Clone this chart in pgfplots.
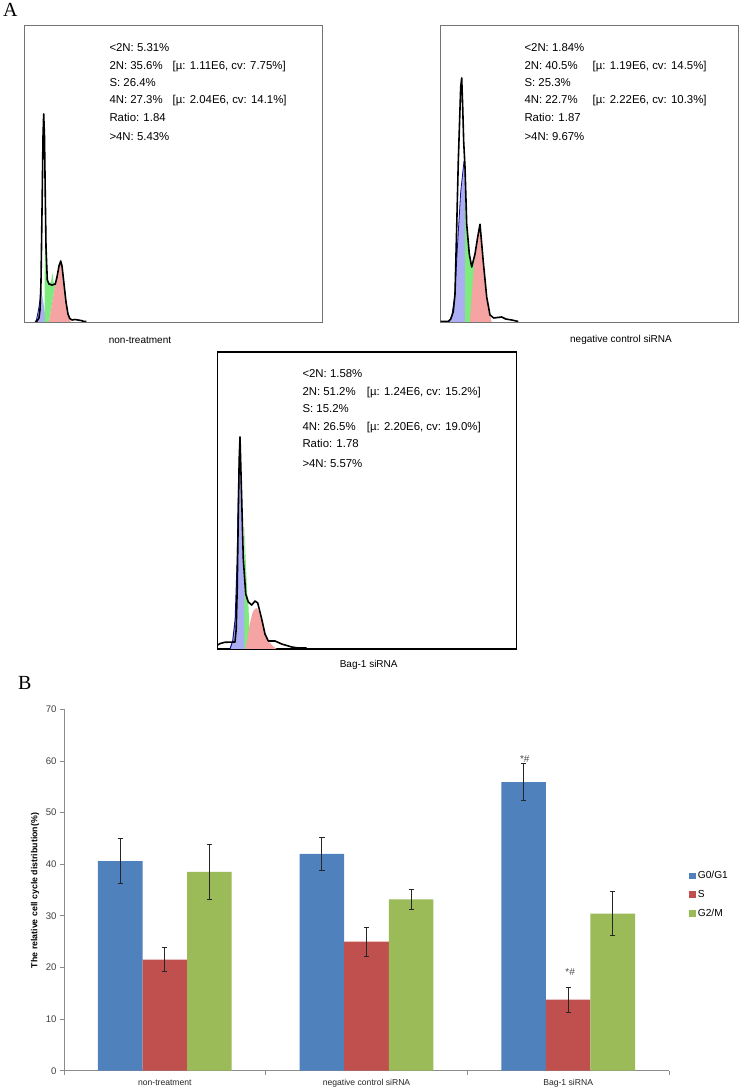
\documentclass[border=0pt]{standalone}
\usepackage{fontspec}
\setmainfont{Liberation Sans}
\newfontfamily\panelfont{Liberation Serif}
\usepackage{pgfplots}
\pgfplotsset{compat=1.18}

\definecolor{xlblue}{HTML}{4F81BD}
\definecolor{xlred}{HTML}{C0504D}
\definecolor{xlgreen}{HTML}{9BBB59}
\definecolor{hblue}{HTML}{ABAEF2}
\definecolor{hbluedark}{HTML}{10108C}
\definecolor{hgreen}{HTML}{7DEB7D}
\definecolor{hred}{HTML}{F5A3A3}

\newcommand{\st}{\fontsize{11.4}{13}\selectfont}

\pgfplotsset{
  histo/.style={scale only axis, anchor=south west, xtick=\empty, ytick=\empty,
    axis line style={draw=black!55, line width=0.9pt}, xmin=0, ymin=0},
  hline/.style={black, line width=1.6pt, line join=round},
}

\begin{document}
\begin{tikzpicture}[x=1pt,y=1pt]
\useasboundingbox (0,0) rectangle (741,1088);
\fill[white] (0,0) rectangle (741,1088);

% ---------- panel A, non-treatment
\begin{axis}[histo, at={(24pt,766pt)}, width=298.3pt, height=297pt, xmax=298.3, ymax=297]
\addplot[fill=hblue, draw=none] coordinates {(12,0) (14.5,12) (17.3,31) (19,22) (21,8) (21.5,0)};
\addplot[hbluedark, line width=0.8pt] coordinates {(12,0) (14.5,12) (17.3,31)};
\addplot[fill=hgreen, draw=none] coordinates {(20.5,0) (20.8,60) (21.6,125) (22.4,75) (23.5,42) (25,38) (27,40) (28.5,49) (29.5,40) (31.3,38) (25,0)};
\addplot[fill=hred, draw=none] coordinates {(25,0) (31.3,38) (33,45) (35,56) (36.7,61) (38,56) (40,38) (42,20) (44,8) (46,2) (47,0)};
\addplot[hline] coordinates {(11,0.3) (13,1) (15,4) (16,12) (17,40) (18,110) (19,185) (19.7,208) (20.5,185) (21.3,125) (22,75) (23.3,42) (25,38) (28,37) (31.3,38) (33,45) (35,56) (36.7,61) (38,56) (40,38) (42,20) (44,8) (45.7,3.5) (48,2) (51,2.5) (54,2) (57,1.5) (60,0.5) (62.3,0.5)};
\end{axis}

% ---------- panel A, negative control siRNA
\begin{axis}[histo, at={(440.7pt,766pt)}, width=297.3pt, height=297pt, xmax=297.3, ymax=297]
\addplot[fill=hblue, draw=none] coordinates {(8,0) (11,5) (14,25) (17,80) (20,130) (23.3,161) (24.3,150) (24.3,0)};
\addplot[hbluedark, line width=0.8pt] coordinates {(8,0) (11,5) (14,25) (17,80) (20,130) (23.3,161)};
\addplot[fill=hgreen, draw=none] coordinates {(24.3,0) (24.3,150) (26,98) (28.6,68) (31,55) (34.3,68) (34.3,0)};
\addplot[fill=hred, draw=none] coordinates {(29,0) (34.3,68) (37,85) (39.3,97) (42.6,60) (46,25) (48,12) (50,4) (51,0)};
\addplot[hline] coordinates {(0,0.5) (7.6,0.5) (10,3) (12.5,10) (14.3,28) (16,95) (17.6,161) (20,235) (21,244) (22,215) (23,180) (24.3,155) (26,98) (28.6,68) (31,55) (34.3,68) (37,85) (39.3,97.7) (42.6,60) (46,25) (49.3,7) (53,4) (57,4.5) (61,5) (65,3) (71,2) (77.6,0.5)};
\end{axis}

% ---------- panel A, Bag-1 siRNA
\begin{axis}[histo, at={(217.7pt,439pt)}, width=299pt, height=297pt, xmax=299, ymax=297,
  axis line style={draw=black, line width=1.3pt}]
\addplot[fill=hblue, draw=none] coordinates {(12.3,0) (15,8) (17.5,30) (19.5,90) (21,170) (22.3,205) (23.5,165) (25,105) (26.6,60) (28,40) (29,20) (29.5,0)};
\addplot[hbluedark, line width=1pt] coordinates {(12.3,0) (15,8) (17.5,30) (19.5,90) (21,170) (22.3,205)};
\addplot[fill=hgreen, draw=none] coordinates {(26.6,0) (26.6,125) (28,90) (29.5,55) (30.6,47) (31.5,25) (31.5,0)};
\addplot[fill=hred, draw=none] coordinates {(27.5,0) (30,12) (32,25) (35,37) (37.3,40) (39,41) (41,38) (44,28) (47.3,15) (50.6,8) (55,3) (59,0)};
\addplot[hline] coordinates {(0,4) (2.5,5.5) (7,6.7) (17.3,7) (18.5,20) (19.5,60) (20.5,130) (21.5,190) (22.3,212) (24,150) (25.6,90) (28,55) (30.6,47) (34,44) (37.3,48) (40,46) (44,30) (47.3,15) (50.6,8) (57.3,8) (64,5) (74,2) (80.6,1) (89,1)};
\end{axis}

% ---------- statistics text
\begin{scope}[every node/.style={anchor=base west, inner sep=0pt, font=\st}]
\node at (109.3,1036.6) {<2N: 5.31\%};
\node at (109.3,1018.9) {2N: 35.6\%};
\node at (172.5,1018.9) {[µ: 1.11E6, cv: 7.75\%]};
\node at (109.3,1001.9) {S: 26.4\%};
\node at (109.3,984.6) {4N: 27.3\%};
\node at (172.5,984.6) {[µ: 2.04E6, cv: 14.1\%]};
\node at (109.3,966.6) {Ratio: 1.84};
\node at (109.3,947.2) {>4N: 5.43\%};

\node at (524.3,1036.6) {<2N: 1.84\%};
\node at (524.3,1018.9) {2N: 40.5\%};
\node at (592.5,1018.9) {[µ: 1.19E6, cv: 14.5\%]};
\node at (524.3,1001.9) {S: 25.3\%};
\node at (524.3,984.6) {4N: 22.7\%};
\node at (592.5,984.6) {[µ: 2.22E6, cv: 10.3\%]};
\node at (524.3,966.6) {Ratio: 1.87};
\node at (524.3,947.2) {>4N: 9.67\%};

\node at (302.3,710.6) {<2N: 1.58\%};
\node at (302.3,692.9) {2N: 51.2\%};
\node at (366.7,692.9) {[µ: 1.24E6, cv: 15.2\%]};
\node at (302.3,675.6) {S: 15.2\%};
\node at (302.3,657.9) {4N: 26.5\%};
\node at (366.7,657.9) {[µ: 2.20E6, cv: 19.0\%]};
\node at (302.3,640.6) {Ratio: 1.78};
\node at (302.3,620.6) {>4N: 5.57\%};
\end{scope}

\begin{scope}[every node/.style={inner sep=0pt, font=\fontsize{10}{12}\selectfont}]
\node at (140,748) {non-treatment};
\node at (621,748) {negative control siRNA};
\node at (368.7,423) {Bag-1 siRNA};
\end{scope}

\node[anchor=base west, inner sep=0pt, font=\panelfont\fontsize{20}{22}\selectfont] at (3,1071.3) {A};
\node[anchor=base west, inner sep=0pt, font=\panelfont\fontsize{20}{22}\selectfont] at (18,398) {B};

% ---------- panel B
\begin{axis}[
  at={(64pt,17.3pt)}, anchor=origin, scale only axis,
  width=605pt, height=361.4pt,
  xmin=0, xmax=3, ymin=0, ymax=70,
  ybar=0pt, bar width=44.6pt,
  axis x line=bottom, axis y line=left,
  axis line style={-, draw=black!45, line width=0.8pt},
  tick align=outside, major tick length=4pt, minor tick length=4pt,
  tick style={draw=black!45, line width=0.8pt},
  xtick={0.5,1.5,2.5},
  xticklabels={non-treatment, negative control siRNA, Bag-1 siRNA},
  major x tick style={draw=none},
  minor xtick={0,1,2,3},
  xticklabel style={font=\fontsize{8.6}{10}\selectfont, text=black!85, yshift=-1.5pt},
  ytick={0,10,...,70},
  yticklabel style={font=\fontsize{9.6}{10}\selectfont, text=black!75},
  /pgf/number format/assume math mode=true,
  error bars/error bar style={line width=0.9pt, black!85},
  error bars/error mark options={rotate=90, mark size=2.6pt, line width=0.9pt, black!85},
  legend cell align=left,
  legend image code/.code={\fill[#1, draw=none] (0pt,-3.3pt) rectangle (6.7pt,3.3pt);},
  legend style={draw=none, fill=none, at={(axis description cs:1.028,0.563)},
    anchor=north west, font=\fontsize{10.2}{12}\selectfont, row sep=6pt},
]
\addplot[fill=xlblue, draw=none, error bars/.cd, y dir=both, y explicit]
  coordinates {(0.5,40.6) +- (0,4.3) (1.5,42.0) +- (0,3.2) (2.5,55.9) +- (0,3.55)};
\addplot[fill=xlred, draw=none, error bars/.cd, y dir=both, y explicit]
  coordinates {(0.5,21.5) +- (0,2.3) (1.5,25.0) +- (0,2.8) (2.5,13.75) +- (0,2.45)};
\addplot[fill=xlgreen, draw=none, error bars/.cd, y dir=both, y explicit]
  coordinates {(0.5,38.5) +- (0,5.3) (1.5,33.2) +- (0,1.9) (2.5,30.4) +- (0,4.25)};
\legend{G0/G1, S, G2/M}
\node[font=\fontsize{10}{12}\selectfont, text=black!70] at (axis cs:2.285,60.4) {*\#};
\node[font=\fontsize{10}{12}\selectfont, text=black!70] at (axis cs:2.51,19.2) {*\#};
\end{axis}

\node[rotate=90, inner sep=0pt, font=\bfseries\fontsize{8.8}{10}\selectfont] at (35,197.5) {The relative cell cycle distribution(\%)};

\end{tikzpicture}
\end{document}
